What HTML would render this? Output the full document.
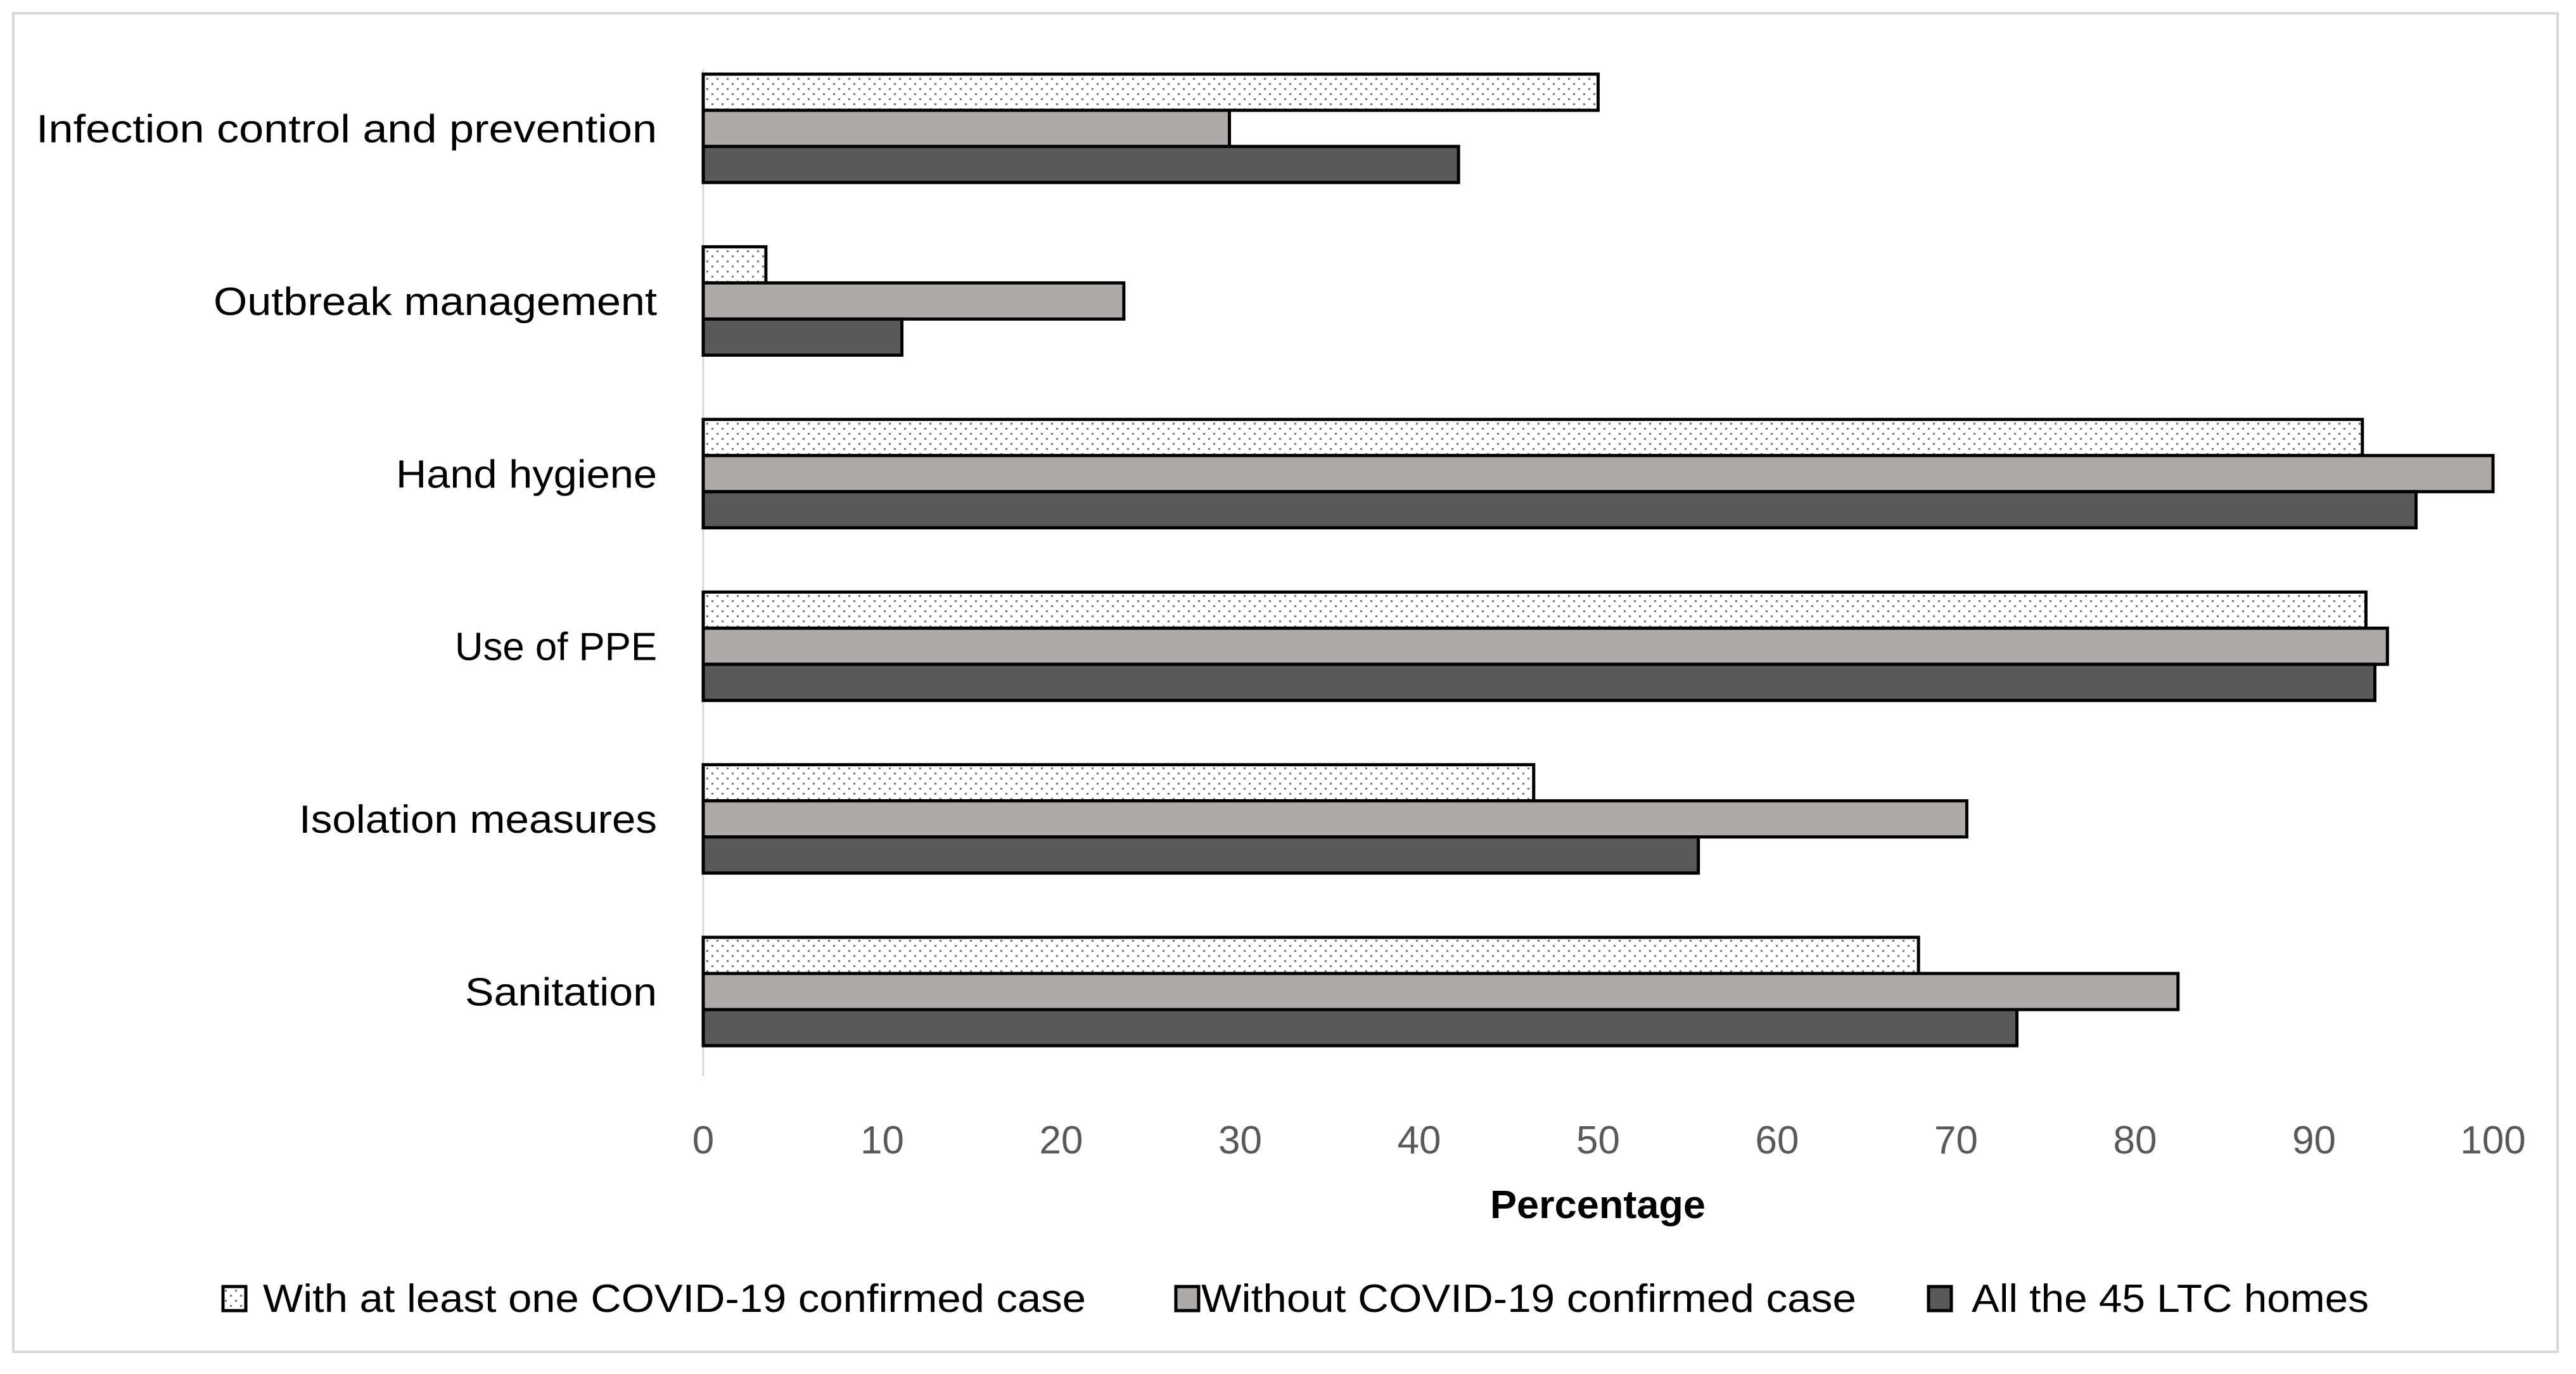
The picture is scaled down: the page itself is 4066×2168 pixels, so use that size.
<!DOCTYPE html>
<html><head><meta charset="utf-8"><style>
html,body{margin:0;padding:0;background:#fff;}
svg{display:block;}
text{font-family:"Liberation Sans",sans-serif;}
</style></head><body>
<svg id="chart" width="4066" height="2168" viewBox="0 0 4066 2168" xmlns="http://www.w3.org/2000/svg">
<defs>
<pattern id="dots" patternUnits="userSpaceOnUse" width="16" height="16">
<rect width="16" height="16" fill="#fff"/>
<rect x="3" y="3" width="3" height="3" fill="#777"/>
<rect x="11" y="11" width="3" height="3" fill="#777"/>
</pattern>
</defs>
<rect x="21" y="21" width="4016" height="2112" fill="#fff" stroke="#d9d9d9" stroke-width="4"/>
<g id="plot"></g>
</svg>
<script>
const categories = ["Infection control and prevention","Outbreak management","Hand hygiene","Use of PPE","Isolation measures","Sanitation"];
const labelWidths = [980,700,412,319,565,303];
const seriesWith = [50.0,3.5,92.7,92.9,46.4,67.9];
const seriesWithout = [29.4,23.5,100,94.1,70.6,82.4];
const seriesAll = [42.2,11.1,95.7,93.4,55.6,73.4];
const tickLabels = [0,10,20,30,40,50,60,70,80,90,100];
const legendLabels = ["With at least one COVID-19 confirmed case","Without COVID-19 confirmed case","All the 45 LTC homes"];

const NS = "http://www.w3.org/2000/svg";
const plot = document.getElementById('plot');
const X0 = 1110, X1 = 3935, XMAX = 100;
const xScale = v => X0 + (X1 - X0) * v / XMAX;
const GROUP_TOP = 117, GROUP_STEP = 272.4, BAR_H = 57;
const fills = ["url(#dots)", "#aeaaaa", "#595959"];
const seriesNames = ["with-case", "without-case", "all-homes"];
const allSeries = [seriesWith, seriesWithout, seriesAll];

function mk(tag, attrs){ const e=document.createElementNS(NS,tag); for(const k in attrs) e.setAttribute(k,attrs[k]); return e; }

// axis line
const axis = mk('line',{x1:X0,y1:109,x2:X0,y2:1698,stroke:'#d9d9d9','stroke-width':3});


plot.appendChild(axis);

categories.forEach((c,i)=>{
  const top = GROUP_TOP + i*GROUP_STEP;
  allSeries.forEach((s,j)=>{
    const r = mk('rect',{x:X0,y:top+j*BAR_H,width:xScale(s[i])-X0,height:BAR_H,fill:fills[j],stroke:'#000','stroke-width':5});
    
    
    plot.appendChild(r);
  });
  const t = mk('text',{x:1037,y:top+1.5*BAR_H+22,'text-anchor':'end','font-size':62,fill:'#000',textLength:labelWidths[i],lengthAdjust:'spacingAndGlyphs'});
  t.textContent = c;
  
  
  plot.appendChild(t);
});

tickLabels.forEach(v=>{
  const t = mk('text',{x:xScale(v),y:1820,'text-anchor':'middle','font-size':62,fill:'#595959'});
  t.textContent = String(v);
  
  
  plot.appendChild(t);
});

const xt = mk('text',{x:2522,y:1922,'text-anchor':'middle','font-size':62,'font-weight':'bold',fill:'#000',textLength:340,lengthAdjust:'spacingAndGlyphs'});
xt.textContent = 'Percentage';


plot.appendChild(xt);

const legBoxX = [352,1856,3044], legTextX = [415,1896,3112], legTextW = [1299,1034,627];
legendLabels.forEach((l,j)=>{
  const g = mk('g',{});
  
  
  g.appendChild(mk('rect',{x:legBoxX[j],y:2030,width:36,height:38,fill:fills[j],stroke:'#000','stroke-width':5}));
  const t = mk('text',{x:legTextX[j],y:2070,'font-size':62,fill:'#000',textLength:legTextW[j],lengthAdjust:'spacingAndGlyphs'});
  t.textContent = l;
  g.appendChild(t);
  plot.appendChild(g);
});
</script>
</body></html>
